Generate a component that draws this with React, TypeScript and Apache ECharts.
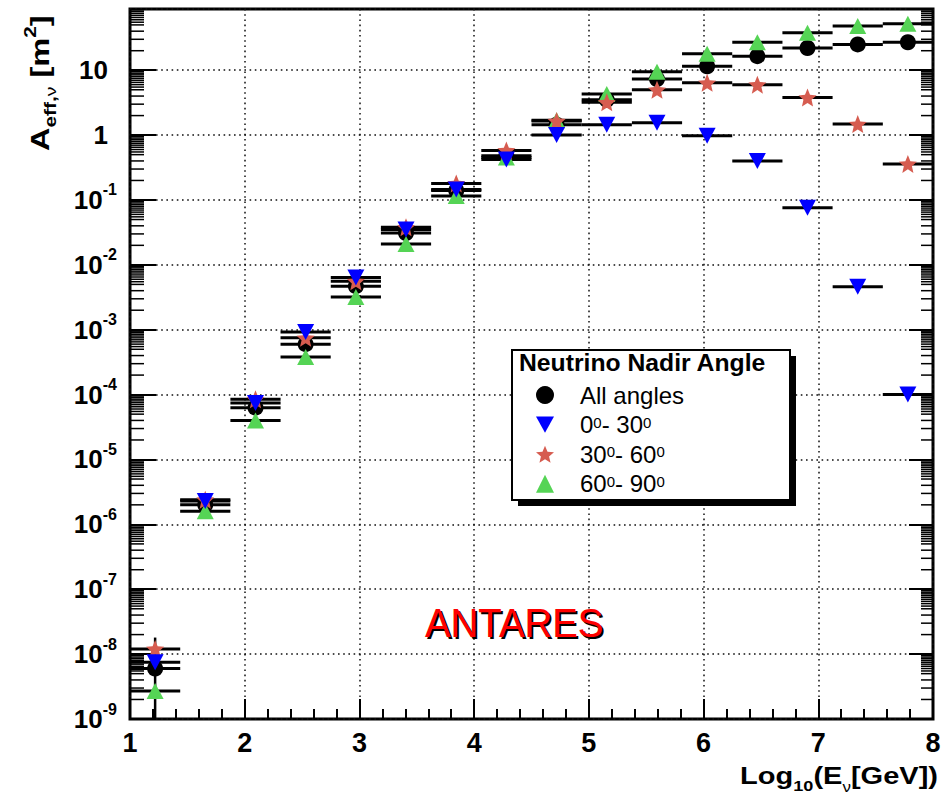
import React, { useEffect, useRef } from 'react';
import * as echarts from 'echarts';

// ---- data ----
const binCenters = [1.219, 1.656, 2.094, 2.531, 2.969, 3.406, 3.844, 4.281, 4.719, 5.156, 5.594, 6.031, 6.469, 6.906, 7.344, 7.781];
const binHalfWidth = 0.21875;
const allAngles = [6.0e-9, 2.0e-6, 6.3e-5, 6.0e-4, 4.7e-3, 0.031, 0.14, 0.48, 1.45, 3.5, 7.3, 11.5, 16.5, 22, 25, 27];
const nadir0to30 = [7.5e-9, 2.3e-6, 7.4e-5, 9.2e-4, 6.4e-3, 0.035, 0.145, 0.42, 1.0, 1.45, 1.55, 0.98, 0.40, 0.076, 0.0046, 1.0e-4];
const nadir30to60 = [1.2e-8, 2.4e-6, 8.5e-5, 7.5e-4, 5.6e-3, 0.038, 0.18, 0.58, 1.65, 3.2, 5.0, 6.4, 6.0, 3.8, 1.48, 0.36];
const nadir60to90 = [2.7e-9, 1.6e-6, 4.0e-5, 3.8e-4, 3.2e-3, 0.021, 0.115, 0.45, 1.7, 4.3, 9.5, 18, 27, 38, 48, 52];
// vertical error range of "All angles" (only the first bin's is visible)
const allAnglesErr: ([number, number] | null)[] = [[1e-10, 1.8e-8], null, null, null, null, null, null, null, null, null, null, null, null, null, null, null];

const seriesNames = ['All angles', '0°- 30°', '30°- 60°', '60°- 90°'];
const legendLabels = [
  '{t|All angles}',
  '{t|0}{s|0}{t|- 30}{s|0}',
  '{t|30}{s|0}{t|- 60}{s|0}',
  '{t|60}{s|0}{t|- 90}{s|0}',
];
const xMin = 1;
const xMax = 8;
const yMinExp = -9;
const yMaxExp = 1.944;
const yMin = Math.pow(10, yMinExp);
const yMax = Math.pow(10, yMaxExp);
const minorMantissas = [2, 3, 4, 5, 5.5, 6, 6.5, 7, 7.5, 8, 8.5, 9, 9.5];
const decadeExponents = [-9, -8, -7, -6, -5, -4, -3, -2, -1, 0, 1];

const FONT = '"Liberation Sans", Arial, Helvetica, sans-serif';
const COLORS = { all: '#000000', blue: '#0000ff', red: '#d65c50', green: '#55d455' };
const STAR = 'path://M50,0 L63.23,31.8 L97.55,34.55 L71.4,56.95 L79.39,90.45 L50,72.5 L20.61,90.45 L28.6,56.95 L2.45,34.55 L36.77,31.8 Z';
const DOWN_TRI = 'path://M0,0 L20,0 L10,18 Z';

const minorTickValues: number[] = [];
decadeExponents.forEach((e) => {
  minorMantissas.forEach((m) => {
    const v = m * Math.pow(10, e);
    if (v < yMax) minorTickValues.push(v);
  });
});

function pts(vals: number[]) {
  return binCenters.map((x, i) => [x, vals[i]]);
}

function errorBars(vals: number[], z: number) {
  return {
    type: 'custom',
    silent: true,
    clip: true,
    z,
    yAxisIndex: 0,
    data: pts(vals),
    encode: { x: 0, y: 1 },
    renderItem: (_p: any, api: any) => {
      const x = api.value(0);
      const y = api.value(1);
      const a = api.coord([x - binHalfWidth, y]);
      const b = api.coord([x + binHalfWidth, y]);
      return {
        type: 'line',
        shape: { x1: a[0], y1: a[1], x2: b[0], y2: b[1] },
        style: { stroke: '#000', lineWidth: 3 },
      };
    },
  };
}

// labels of the decade axis (value = exponent of ten)
function yLabel(e: number) {
  const r = Math.round(e);
  if (Math.abs(e - r) > 1e-6) return '';
  if (r === 1) return '{bp|10}';
  if (r === 0) return '{bp|1}';
  return `{b|10}{s|${r}}`;
}

const dotted = { color: '#111', width: 1.5, type: [1.6, 3.6] as number[] };

const option: any = {
  animation: false,
  backgroundColor: '#fff',
  textStyle: { fontFamily: FONT },
  grid: {
    left: 130,
    right: 9,
    top: 9,
    bottom: 85,
    show: true,
    borderColor: '#000',
    borderWidth: 3,
    backgroundColor: 'transparent',
    containLabel: false,
    outerBoundsMode: 'none',
  },
  xAxis: {
    type: 'value',
    min: xMin,
    max: xMax,
    interval: 1,
    axisLine: { show: false, onZero: false },
    axisTick: { show: true, inside: true, length: 20, lineStyle: { color: '#000', width: 2 } },
    minorTick: { show: true, splitNumber: 5, length: 10, lineStyle: { color: '#000', width: 2 } },
    splitLine: { show: true, lineStyle: dotted },
    axisLabel: { fontSize: 27, fontWeight: 'bold', color: '#000', margin: 10, fontFamily: FONT },
  },
  yAxis: [
    {
      // data axis (logarithmic), drawn without decoration
      type: 'log',
      logBase: 10,
      min: yMin,
      max: yMax,
      position: 'left',
      show: false,
      splitLine: { show: false },
    },
    {
      // decade ticks, labels and grid lines (same mapping: exponent of ten)
      type: 'value',
      min: yMinExp,
      max: yMaxExp,
      interval: 1,
      position: 'left',
      axisLine: { show: false, onZero: false },
      axisTick: { show: true, inside: true, length: 26, lineStyle: { color: '#000', width: 2 } },
      splitLine: { show: true, lineStyle: dotted },
      axisLabel: {
        margin: 13,
        interval: 0,
        showMaxLabel: false,
        color: '#000',
        formatter: yLabel,
        rich: {
          b: { fontSize: 26, fontWeight: 'bold', lineHeight: 36, color: '#000', fontFamily: FONT },
          bp: { fontSize: 26, fontWeight: 'bold', lineHeight: 36, color: '#000', fontFamily: FONT, padding: [0, 9, 0, 0] },
          s: { fontSize: 16, fontWeight: 'bold', lineHeight: 10, verticalAlign: 'top', color: '#000', fontFamily: FONT },
        },
      },
    },
    {
      type: 'value',
      min: yMinExp,
      max: yMaxExp,
      interval: 1,
      position: 'right',
      axisLine: { show: false, onZero: false },
      axisTick: { show: true, inside: true, length: 24, lineStyle: { color: '#000', width: 2 } },
      splitLine: { show: false },
      axisLabel: { show: false },
    },
  ],
  legend: {
    orient: 'vertical',
    left: 536,
    top: 383,
    padding: 0,
    itemWidth: 18,
    itemHeight: 18,
    itemGap: 5.6,
    selectedMode: false,
    z: 12,
    data: seriesNames,
    formatter: (n: string) => legendLabels[seriesNames.indexOf(n)],
    textStyle: {
      padding: [0, 0, 0, 21],
      rich: {
        t: { fontSize: 24, lineHeight: 20, color: '#000', fontFamily: FONT },
        s: { fontSize: 15, lineHeight: 4, verticalAlign: 'top', color: '#000', fontFamily: FONT },
      },
    },
  },
  graphic: [
    // legend box with shadow
    { type: 'rect', z: 10, shape: { x: 518, y: 356, width: 278, height: 150 }, style: { fill: '#000' } },
    { type: 'rect', z: 11, shape: { x: 512, y: 350, width: 278, height: 150 }, style: { fill: '#fff', stroke: '#000', lineWidth: 2 } },
    {
      type: 'text', z: 12, x: 519, y: 363, scaleX: 1.03,
      style: { text: 'Neutrino Nadir Angle', fontSize: 24, fontWeight: 'bold', fontFamily: FONT, fill: '#000', align: 'left', verticalAlign: 'middle' },
    },
    // ANTARES label with shadow
    {
      type: 'text', z: 12, x: 427, y: 625, scaleX: 0.96,
      style: { text: 'ANTARES', fontSize: 40, fontFamily: FONT, fill: '#000', align: 'left', verticalAlign: 'middle' },
    },
    {
      type: 'text', z: 13, x: 425, y: 623, scaleX: 0.96,
      style: { text: 'ANTARES', fontSize: 40, fontFamily: FONT, fill: '#ff0000', align: 'left', verticalAlign: 'middle' },
    },
    // y-axis title
    {
      type: 'text', z: 12, x: 40, y: 151, rotation: Math.PI / 2, scaleX: 1.3,
      style: {
        text: '{a|A}{s|eff,}{v|ν}{a| [m}{p|2}{a|]}',
        align: 'left',
        verticalAlign: 'middle',
        rich: {
          a: { fontSize: 25, fontWeight: 'bold', lineHeight: 36, fill: '#000', fontFamily: FONT },
          s: { fontSize: 16, fontWeight: 'bold', lineHeight: 12, verticalAlign: 'bottom', fill: '#000', fontFamily: FONT },
          v: { fontSize: 15, lineHeight: 12, verticalAlign: 'bottom', fill: '#000', fontFamily: FONT },
          p: { fontSize: 16, fontWeight: 'bold', lineHeight: 8, verticalAlign: 'top', fill: '#000', fontFamily: FONT },
        },
      },
    },
    // x-axis title
    {
      type: 'text', z: 12, x: 938, y: 776, scaleX: 1.21,
      style: {
        text: '{a|Log}{s|10}{a|(E}{v|ν}{a|[GeV])}',
        align: 'right',
        verticalAlign: 'middle',
        rich: {
          a: { fontSize: 24, fontWeight: 'bold', lineHeight: 36, fill: '#000', fontFamily: FONT },
          s: { fontSize: 15, fontWeight: 'bold', lineHeight: 12, verticalAlign: 'bottom', fill: '#000', fontFamily: FONT },
          v: { fontSize: 14, lineHeight: 12, verticalAlign: 'bottom', fill: '#000', fontFamily: FONT },
        },
      },
    },
  ],
  series: [
    // minor log ticks on both y sides
    {
      type: 'custom',
      silent: true,
      clip: false,
      z: 1,
      yAxisIndex: 0,
      data: minorTickValues.map((v) => [xMin, v]),
      encode: { x: 0, y: 1 },
      renderItem: (_p: any, api: any) => {
        const v = api.value(1);
        const a = api.coord([xMin, v]);
        const b = api.coord([xMax, v]);
        return {
          type: 'group',
          children: [
            { type: 'line', shape: { x1: a[0], y1: a[1], x2: a[0] + 14, y2: a[1] }, style: { stroke: '#000', lineWidth: 1.5 } },
            { type: 'line', shape: { x1: b[0] - 12, y1: b[1], x2: b[0], y2: b[1] }, style: { stroke: '#000', lineWidth: 1.5 } },
          ],
        };
      },
    },
    // vertical error bar of "All angles"
    {
      type: 'custom',
      silent: true,
      clip: true,
      z: 2,
      yAxisIndex: 0,
      data: binCenters.map((x, i) => (allAnglesErr[i] ? [x, allAnglesErr[i]![0], allAnglesErr[i]![1]] : [x, NaN, NaN])),
      encode: { x: 0, y: [1, 2] },
      renderItem: (_p: any, api: any) => {
        const lo = api.value(1);
        const hi = api.value(2);
        if (!isFinite(lo) || !isFinite(hi)) return null;
        const a = api.coord([api.value(0), lo]);
        const b = api.coord([api.value(0), hi]);
        return { type: 'line', shape: { x1: a[0], y1: a[1], x2: b[0], y2: b[1] }, style: { stroke: '#000', lineWidth: 2.5 } };
      },
    },
    errorBars(allAngles, 2),
    errorBars(nadir60to90, 2),
    errorBars(nadir30to60, 2),
    errorBars(nadir0to30, 2),
    {
      name: seriesNames[0], type: 'scatter', z: 3, yAxisIndex: 0, symbol: 'circle', symbolSize: 16,
      itemStyle: { color: COLORS.all, opacity: 1 }, data: pts(allAngles),
    },
    {
      name: seriesNames[3], type: 'scatter', z: 4, yAxisIndex: 0, symbol: 'triangle', symbolSize: [17, 16],
      itemStyle: { color: COLORS.green, opacity: 1 }, data: pts(nadir60to90),
    },
    {
      name: seriesNames[2], type: 'scatter', z: 5, yAxisIndex: 0, symbol: STAR, symbolSize: 18,
      itemStyle: { color: COLORS.red, opacity: 1 }, data: pts(nadir30to60),
    },
    {
      name: seriesNames[1], type: 'scatter', z: 6, yAxisIndex: 0, symbol: DOWN_TRI, symbolSize: [17, 16],
      itemStyle: { color: COLORS.blue, opacity: 1 }, data: pts(nadir0to30),
    },
  ],
};

export default function App() {
  const ref = useRef<HTMLDivElement>(null);
  useEffect(() => {
    const chart = echarts.init(ref.current!, null, { renderer: 'svg' });
    chart.setOption(option);
    return () => chart.dispose();
  }, []);
  return (
    <div
      ref={ref}
      style={{ position: 'fixed', left: 0, top: 0, width: 942, height: 804, background: '#fff' }}
    />
  );
}
